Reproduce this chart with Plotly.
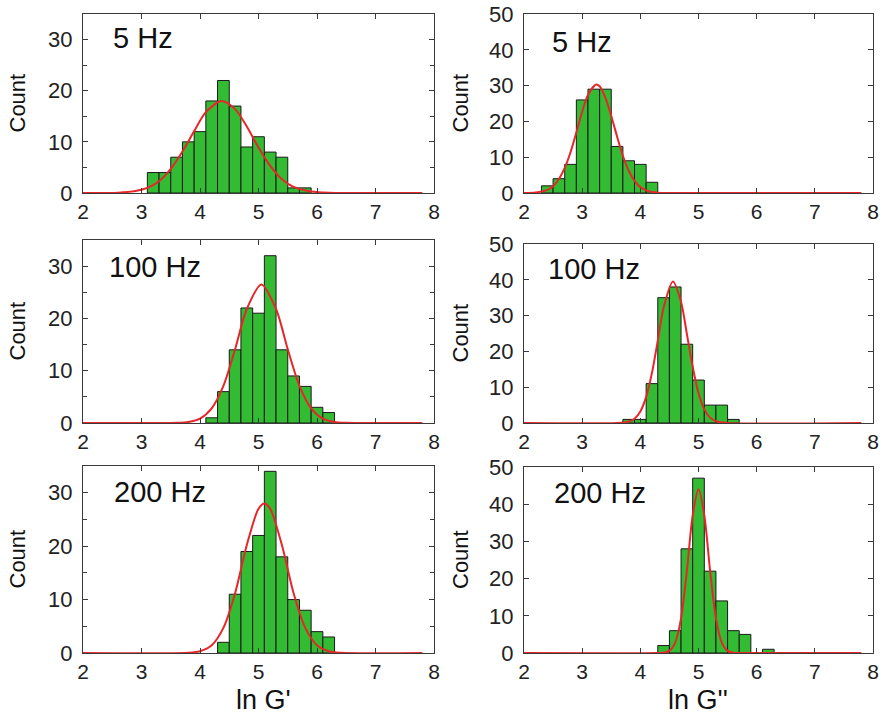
import plotly.graph_objects as go

# ---------------- data ----------------
freq_labels = ["5 Hz", "100 Hz", "200 Hz"]

# ln G' histograms (bin centres, bin width 0.2)
gp5_x = [3.2, 3.4, 3.6, 3.8, 4.0, 4.2, 4.4, 4.6, 4.8, 5.0, 5.2, 5.4, 5.6, 5.8]
gp5_n = [4, 4, 7, 10, 12, 18, 22, 17, 9, 11, 8, 7, 1, 1]
gp100_x = [4.2, 4.4, 4.6, 4.8, 5.0, 5.2, 5.4, 5.6, 5.8, 6.0, 6.2]
gp100_n = [1, 6, 14, 22, 21, 32, 14, 9, 7, 3, 2]
gp200_x = [4.4, 4.6, 4.8, 5.0, 5.2, 5.4, 5.6, 5.8, 6.0, 6.2]
gp200_n = [2, 11, 19, 22, 34, 18, 10, 8, 4, 3]

# ln G'' histograms
gpp5_x = [2.4, 2.6, 2.8, 3.0, 3.2, 3.4, 3.6, 3.8, 4.0, 4.2]
gpp5_n = [2, 4, 8, 26, 29, 29, 13, 9, 8, 3]
gpp100_x = [3.8, 4.0, 4.2, 4.4, 4.6, 4.8, 5.0, 5.2, 5.4, 5.6]
gpp100_n = [1, 1, 11, 35, 38, 22, 12, 5, 5, 1]
gpp200_x = [4.4, 4.6, 4.8, 5.0, 5.2, 5.4, 5.6, 5.8, 6.0, 6.2]
gpp200_n = [2, 6, 28, 47, 22, 14, 6, 5, 0, 1]

# fitted curves
fgp5_x = [2.0, 2.6, 2.9, 3.1, 3.3, 3.5, 3.7, 3.9, 4.1, 4.37, 4.6, 4.8, 5.0, 5.2, 5.4, 5.6, 5.9, 6.2, 7.8]
fgp5_y = [0, 0.07, 0.4, 1.0, 2.3, 4.7, 8.1, 12.1, 15.8, 18.0, 16.4, 13.0, 8.9, 5.3, 2.7, 1.2, 0.3, 0.05, 0]
fgp100_x = [2.0, 3.6, 3.8, 4.0, 4.2, 4.4, 4.6, 4.8, 5.05, 5.3, 5.5, 5.7, 5.9, 6.1, 6.3, 6.5, 7.8]
fgp100_y = [0, 0.04, 0.2, 0.84, 2.8, 7.1, 14.1, 21.8, 26.5, 21.8, 14.1, 7.1, 2.8, 0.84, 0.2, 0.04, 0]
fgp200_x = [2.0, 3.8, 4.0, 4.2, 4.4, 4.6, 4.8, 5.0, 5.1, 5.2, 5.4, 5.6, 5.8, 6.0, 6.2, 6.4, 7.8]
fgp200_y = [0, 0.06, 0.34, 1.45, 4.7, 11.2, 20.2, 27.0, 28.0, 27.0, 20.2, 11.2, 4.7, 1.45, 0.34, 0.06, 0]

fgpp5_x = [2.0, 2.2, 2.4, 2.5, 2.6, 2.7, 2.8, 2.9, 3.0, 3.1, 3.24, 3.3, 3.4, 3.5, 3.6, 3.7, 3.8, 3.9, 4.0, 4.1, 4.2, 4.3, 4.4, 7.8]
fgpp5_y = [0, 0.13, 0.86, 1.9, 3.9, 7.0, 11.4, 16.9, 22.7, 27.4, 30.3, 29.8, 26.6, 21.5, 15.8, 10.4, 6.2, 3.4, 1.65, 0.73, 0.29, 0.1, 0.03, 0]
fgpp100_x = [2.0, 3.6, 3.8, 3.9, 4.0, 4.1, 4.2, 4.3, 4.4, 4.56, 4.7, 4.8, 4.9, 5.0, 5.1, 5.2, 5.3, 5.5, 7.8]
fgpp100_y = [0, 0.03, 0.39, 1.2, 3.2, 7.3, 14.0, 23.0, 32.2, 39.5, 33.8, 24.9, 15.7, 8.4, 3.8, 1.5, 0.5, 0.03, 0]
fgpp200_x = [2.0, 4.3, 4.4, 4.5, 4.6, 4.7, 4.8, 4.9, 5.0, 5.1, 5.2, 5.3, 5.4, 5.5, 5.6, 5.7, 7.8]
fgpp200_y = [0, 0.01, 0.09, 0.58, 2.8, 9.3, 22.0, 37.0, 44.0, 37.0, 22.0, 9.3, 2.8, 0.58, 0.09, 0.01, 0]

x_ticks = [2, 3, 4, 5, 6, 7, 8]

# ---------------- figure ----------------
BAR = "#33bb33"
FIT = "#e8262a"
AX = "#3a3a3a"
FONT = "Liberation Sans, Arial, sans-serif"

panels = [
    (gp5_x, gp5_n, fgp5_x, fgp5_y, freq_labels[0], 0, 0),
    (gpp5_x, gpp5_n, fgpp5_x, fgpp5_y, freq_labels[0], 1, 0),
    (gp100_x, gp100_n, fgp100_x, fgp100_y, freq_labels[1], 0, 1),
    (gpp100_x, gpp100_n, fgpp100_x, fgpp100_y, freq_labels[1], 1, 1),
    (gp200_x, gp200_n, fgp200_x, fgp200_y, freq_labels[2], 0, 2),
    (gpp200_x, gpp200_n, fgpp200_x, fgpp200_y, freq_labels[2], 1, 2),
]

W, H = 887, 715
col_px = [(83, 434), (524, 873)]
row_px = {
    (0, 0): (14, 193), (1, 0): (14, 193),
    (0, 1): (240, 423), (1, 1): (244, 423),
    (0, 2): (466, 653), (1, 2): (467, 653),
}
label_pos = {
    (0, 0): (111, 38), (1, 0): (550, 42),
    (0, 1): (107, 267), (1, 1): (546, 269),
    (0, 2): (112, 492), (1, 2): (552, 493),
}

fig = go.Figure()
annotations = []
layout = {}

for i, (hx, hn, fx, fy, lab, col, row) in enumerate(panels):
    k = i + 1
    xa = "x" if k == 1 else f"x{k}"
    ya = "y" if k == 1 else f"y{k}"
    fig.add_trace(go.Bar(
        x=hx, y=hn, width=0.2, xaxis=xa, yaxis=ya,
        marker=dict(color=BAR, line=dict(color="#1a1a1a", width=1)),
        showlegend=False,
    ))
    fig.add_trace(go.Scatter(
        x=fx, y=fy, mode="lines", xaxis=xa, yaxis=ya,
        line=dict(color=FIT, width=2, shape="spline", smoothing=0.8),
        showlegend=False,
    ))
    l, r = col_px[col]
    t, b = row_px[(col, row)]
    xdom = [l / W, r / W]
    ydom = [1 - b / H, 1 - t / H]
    xkey = "xaxis" if k == 1 else f"xaxis{k}"
    ykey = "yaxis" if k == 1 else f"yaxis{k}"
    layout[xkey] = dict(
        domain=xdom, anchor=ya, range=[2, 8], tickvals=x_ticks, automargin=False,
        ticks="inside", ticklen=5, tickcolor=AX, showline=True, linecolor=AX,
        linewidth=1, mirror="ticks", showgrid=False, zeroline=False,
        tickfont=dict(size=21, color="#222", family=FONT),
    )
    if col == 0:
        yr = [0, 35]
        minor = dict(dtick=5, ticks="inside", ticklen=4, tickcolor=AX, showgrid=False)
    else:
        yr = [0, 50]
        minor = None
    yax = dict(
        domain=ydom, anchor=xa, range=yr, dtick=10, tick0=0, automargin=False,
        ticks="inside", ticklen=5, tickcolor=AX, showline=True, linecolor=AX,
        linewidth=1, mirror="ticks", showgrid=False, zeroline=False,
        ticklabelstandoff=5,
        tickfont=dict(size=22, color="#222", family=FONT),
    )
    if minor:
        yax["minor"] = minor
    layout[ykey] = yax

    lx, ly = label_pos[(col, row)]
    annotations.append(dict(
        text=lab, x=lx / W, y=1 - ly / H, xref="paper", yref="paper",
        xanchor="left", yanchor="middle", showarrow=False,
        font=dict(size=29, color="#111", family=FONT),
    ))
    cx = 17 if col == 0 else 460
    annotations.append(dict(
        text="Count", x=cx / W, y=1 - ((t + b) / 2) / H, xref="paper", yref="paper",
        xanchor="center", yanchor="middle", showarrow=False, textangle=-90,
        font=dict(size=22, color="#111", family=FONT),
    ))

annotations.append(dict(
    text="ln G'", x=263 / W, y=1 - 700 / H, xref="paper", yref="paper",
    xanchor="center", yanchor="middle", showarrow=False,
    font=dict(size=27, color="#111", family=FONT),
))
annotations.append(dict(
    text="ln G''", x=698 / W, y=1 - 700 / H, xref="paper", yref="paper",
    xanchor="center", yanchor="middle", showarrow=False,
    font=dict(size=27, color="#111", family=FONT),
))

fig.update_layout(
    width=W, height=H, margin=dict(l=0, r=0, t=0, b=0, autoexpand=False),
    paper_bgcolor="white", plot_bgcolor="white",
    barmode="overlay", annotations=annotations,
    font=dict(family=FONT),
    **layout,
)

fig.write_html("out.html")
